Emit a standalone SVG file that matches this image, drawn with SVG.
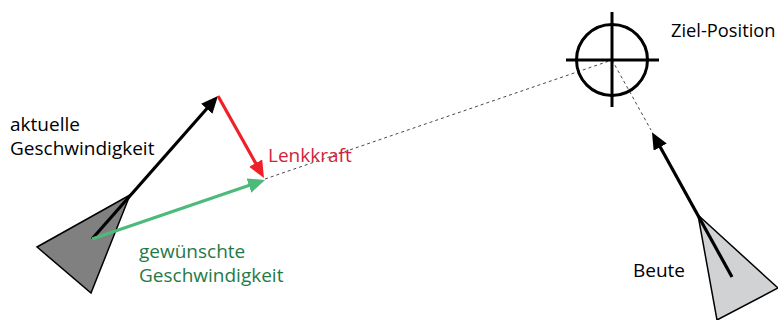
<svg xmlns="http://www.w3.org/2000/svg" width="778" height="320" viewBox="0 0 778 320">
  <style>
    .lbl { font-family: "Open Sans", "Noto Sans", sans-serif; font-size: 19px; }
    .lbl.tight { font-size: 18.3px; }
    .vec { fill: none; stroke-width: 3.2; stroke-linecap: butt; }
    .guide { fill: none; stroke: #333; stroke-width: 0.9; stroke-dasharray: 3 3; }
    .hull { stroke: #000; stroke-width: 1.5; stroke-linejoin: miter; }
  </style>
  <defs>
    <marker id="headBlack" viewBox="0 0 17 15" refX="6" refY="7.5" markerWidth="17" markerHeight="15" markerUnits="userSpaceOnUse" orient="auto">
      <path d="M0,0 L17,7.5 L0,15 Z" fill="#000"/>
    </marker>
    <marker id="headRed" viewBox="0 0 17 15" refX="6" refY="7.5" markerWidth="17" markerHeight="15" markerUnits="userSpaceOnUse" orient="auto">
      <path d="M0,0 L17,7.5 L0,15 Z" fill="#ee2128"/>
    </marker>
    <marker id="headGreen" viewBox="0 0 17 15" refX="6" refY="7.5" markerWidth="17" markerHeight="15" markerUnits="userSpaceOnUse" orient="auto">
      <path d="M0,0 L17,7.5 L0,15 Z" fill="#4dba7a"/>
    </marker>
  </defs>

  <!-- dashed guide lines to the target -->
  <g id="connectors">
    <line class="guide" x1="265" y1="179" x2="612" y2="60"/>
    <line class="guide" x1="612" y1="60" x2="651" y2="130"/>
  </g>

  <!-- pursuer -->
  <g id="pursuer">
    <polygon class="hull" points="130,195 37,247 91,293" fill="#808080"/>
  </g>

  <!-- current velocity -->
  <g id="current-velocity">
    <line class="vec" x1="92" y1="239" x2="210.7" y2="104.3" stroke="#000" marker-end="url(#headBlack)"/>
    <text class="lbl" x="10" y="131" fill="#000">aktuelle</text>
    <text class="lbl" x="10" y="155" fill="#000">Geschwindigkeit</text>
  </g>

  <!-- steering force -->
  <g id="steering-force">
    <line class="vec" x1="218" y1="96" x2="258.6" y2="168.4" stroke="#ee2128" marker-end="url(#headRed)"/>
    <text class="lbl" x="268" y="162" fill="#d0243a">Lenkkraft</text>
  </g>

  <!-- desired velocity -->
  <g id="desired-velocity">
    <line class="vec" x1="92" y1="239" x2="254.6" y2="183.6" stroke="#4dba7a" marker-end="url(#headGreen)"/>
    <text class="lbl" x="139" y="258" fill="#1f7a47">gewünschte</text>
    <text class="lbl" x="139" y="282" fill="#1f7a47">Geschwindigkeit</text>
  </g>

  <!-- target crosshair -->
  <g id="target">
    <circle cx="612" cy="60" r="35.5" fill="none" stroke="#000" stroke-width="3"/>
    <line x1="566" y1="60" x2="659" y2="60" stroke="#000" stroke-width="3"/>
    <line x1="612" y1="12" x2="612" y2="107" stroke="#000" stroke-width="3"/>
    <text class="lbl tight" x="671" y="37" fill="#000">Ziel-Position</text>
  </g>

  <!-- prey -->
  <g id="prey">
    <polygon class="hull" points="698,215 778,288 717,320" fill="#d1d2d4"/>
    <line class="vec" x1="732" y1="277" x2="657.3" y2="141.8" stroke="#000" marker-end="url(#headBlack)"/>
    <text class="lbl" x="633" y="277" fill="#000">Beute</text>
  </g>
</svg>
